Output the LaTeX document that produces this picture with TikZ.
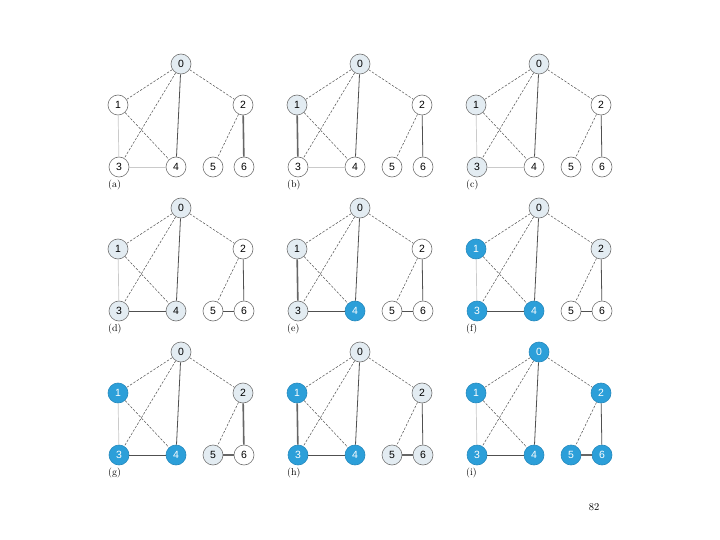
\documentclass[tikz,border=0pt]{standalone}
\usepackage{fontspec}
\setsansfont{Liberation Sans}
\usetikzlibrary{positioning}

\definecolor{visitfill}{HTML}{E3ECF2}
\definecolor{donefill}{HTML}{2C9FD9}
\definecolor{doneline}{HTML}{2589BD}
\definecolor{edgegray}{HTML}{505050}
\definecolor{lightedge}{HTML}{CACACA}

\tikzset{
  vtx/.style={circle, draw=black!55, line width=0.6bp, inner sep=0pt,
              minimum size=20bp, font=\fontsize{10.5}{12}\sffamily\selectfont},
  vW/.style={fill=white},
  vL/.style={fill=visitfill},
  vB/.style={fill=donefill, draw=doneline, text=white},
  edash/.style={edgegray, line width=0.5bp, dash pattern=on 2.5bp off 1.5bp},
  elight/.style={lightedge, line width=0.7bp},
  edark/.style={edgegray, line width=0.8bp},
  ethick/.style={black!60, line width=1.6bp},
  enone/.style={draw=none},
  panellabel/.style={anchor=west, inner sep=0pt, font=\fontsize{10}{12}\selectfont},
}

% #1 panel name, #2/#3 position of vertex 0, #4 vertex looks,
% #5 edge 1-3, #6 edge 3-4, #7 edge 2-6, #8 edge 5-6
\newcommand{\graphpanel}[8]{%
  \begin{scope}[shift={(#2,#3)}]
    \foreach \s [count=\i from 0] in {#4} {
      \pgfmathsetmacro{\nx}{{0,-63,62,-62,-5,32,63}[\i]}
      \pgfmathsetmacro{\ny}{{0,41,41,103,103,103,103}[\i]}
      \node[vtx, v\s] (#1\i) at (\nx,\ny) {\i};
    }
    \foreach \u/\v in {0/1, 0/2, 0/3, 1/4, 2/5}
      \draw[edash] (#1\u) -- (#1\v);
    \draw[edark] (#10) -- (#14);
    \draw[#5] (#11) -- (#13);
    \draw[#6] (#13) -- (#14);
    \draw[#7] (#12) -- (#16);
    \draw[#8] (#15) -- (#16);
    \node[panellabel] (#1lab) at (-73,121) {(#1)};
  \end{scope}}

\begin{document}
\begin{tikzpicture}[x=1bp, y=-1bp]
  \useasboundingbox (0,0) rectangle (720,540);

  % first row
  \graphpanel{a}{181}{64}{L,W,W,W,W,W,W}{elight}{elight}{ethick}{enone}
  \graphpanel{b}{360}{64}{L,L,W,W,W,W,W}{ethick}{elight}{edark}{enone}
  \graphpanel{c}{539}{64}{L,L,W,L,W,W,W}{elight}{elight}{edark}{enone}

  % second row
  \graphpanel{d}{181}{208}{L,L,W,L,L,W,W}{elight}{edark}{edark}{edark}
  \graphpanel{e}{360}{208}{L,L,W,L,B,W,W}{ethick}{edark}{edark}{edark}
  \graphpanel{f}{539}{208}{L,B,L,B,B,W,W}{elight}{edark}{edark}{edark}

  % third row
  \graphpanel{g}{181}{352}{L,B,L,B,B,L,W}{elight}{edark}{ethick}{ethick}
  \graphpanel{h}{360}{352}{L,B,L,B,B,L,L}{ethick}{edark}{edark}{ethick}
  \graphpanel{i}{539}{352}{B,B,B,B,B,B,B}{elight}{edark}{edark}{ethick}

  \node[font=\fontsize{10.5}{12}\selectfont] (pagenum) at (594,507) {82};
\end{tikzpicture}
\end{document}
